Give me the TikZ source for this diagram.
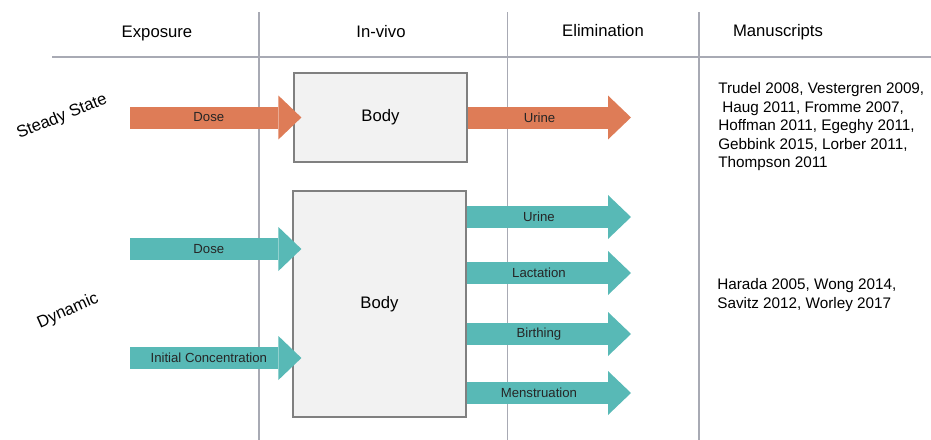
\documentclass[tikz,border=0pt]{standalone}
\usepackage{fontspec}
\setmainfont{Liberation Sans}
\usetikzlibrary{positioning,arrows.meta}

\definecolor{doseorange}{RGB}{222,124,87}
\definecolor{doseteal}{RGB}{88,185,182}
\definecolor{gridgray}{RGB}{168,170,180}
\definecolor{bodyfill}{RGB}{242,242,242}
\definecolor{bodyline}{RGB}{128,128,128}

\tikzset{
	orangearrow/.style={draw=doseorange,line width=0.44cm,-{Triangle[length=0.46cm,width=0.88cm,line width=0pt]}},
	tealarrow/.style={draw=doseteal,line width=0.44cm,-{Triangle[length=0.46cm,width=0.88cm,line width=0pt]}},
	arrowlabel/.style={font=\fontsize{7.5}{9}\selectfont,text=black!85},
	header/.style={font=\fontsize{9.5}{11}\selectfont,anchor=base},
	rowlabel/.style={font=\fontsize{9.5}{11}\selectfont},
	bodybox/.style={draw=bodyline,fill=bodyfill,line width=0.7pt,minimum width=3.46cm,font=\fontsize{9.5}{11}\selectfont},
	reflist/.style={font=\fontsize{8.7}{10.6}\selectfont,align=left,anchor=north west,inner sep=0pt}
}

\begin{document}
\begin{tikzpicture}[x=0.02cm,y=-0.02cm]

		\useasboundingbox (0,0) rectangle (931,440);

		%grid lines
		\draw[gridgray,line width=0.6pt] (52,57) -- (931,57);
		\foreach \x in {259,507.5,699}
			\draw[gridgray,line width=0.6pt] (\x,12) -- (\x,440);

		%headers
		\node[header] (hexp) at (157,37.5) {Exposure};
		\node[header] (hviv) at (381,37.5) {In-vivo};
		\node[header] (helim) at (603,36.7) {Elimination};
		\node[header] (hman) at (778,36.7) {Manuscripts};

		%row labels
		\node[rowlabel,rotate=22] (steady) at (62,117) {Steady State};
		\node[rowlabel,rotate=24] (dyn) at (68,311) {Dynamic};

		%bodies
		\node[bodybox,minimum height=1.78cm] (body1) at (380.5,117.5) {Body};
		\node[bodybox,minimum height=4.52cm] (body2) at (379.5,304) {Body};

		%steady state arrows
		\coordinate (sdose) at (130,117.5);
		\coordinate (surine) at (631,117.5);
		\draw[orangearrow] (sdose) -- ([xshift=0.16cm]body1.west) node[arrowlabel,pos=0.46] {Dose};
		\draw[orangearrow] (body1.east) -- (surine) node[arrowlabel,pos=0.44] {Urine};

		%dynamic arrows in
		\coordinate (ddose) at (130,249);
		\coordinate (dinit) at (130,358);
		\draw[tealarrow] (ddose) -- ([xshift=0.18cm]body2.west |- ddose) node[arrowlabel,pos=0.46] {Dose};
		\draw[tealarrow] (dinit) -- ([xshift=0.18cm]body2.west |- dinit) node[arrowlabel,pos=0.46] {Initial Concentration};

		%dynamic arrows out
		\coordinate (durine) at (631,217);
		\coordinate (dlact) at (631,273);
		\coordinate (dbirth) at (631,334);
		\coordinate (dmens) at (631,393);
		\draw[tealarrow] (body2.east |- durine) -- (durine) node[arrowlabel,pos=0.44] {Urine};
		\draw[tealarrow] (body2.east |- dlact) -- (dlact) node[arrowlabel,pos=0.44] {Lactation};
		\draw[tealarrow] (body2.east |- dbirth) -- (dbirth) node[arrowlabel,pos=0.44] {Birthing};
		\draw[tealarrow] (body2.east |- dmens) -- (dmens) node[arrowlabel,pos=0.44] {Menstruation};

		%manuscripts
		\node[reflist] (ref1) at (718,82) {Trudel 2008, Vestergren 2009,\\\hspace*{2.3pt}Haug 2011, Fromme 2007,\\Hoffman 2011, Egeghy 2011,\\Gebbink 2015, Lorber 2011,\\Thompson 2011};
		\node[reflist] (ref2) at (717,278) {Harada 2005, Wong 2014,\\Savitz 2012, Worley 2017};

\end{tikzpicture}
\end{document}
